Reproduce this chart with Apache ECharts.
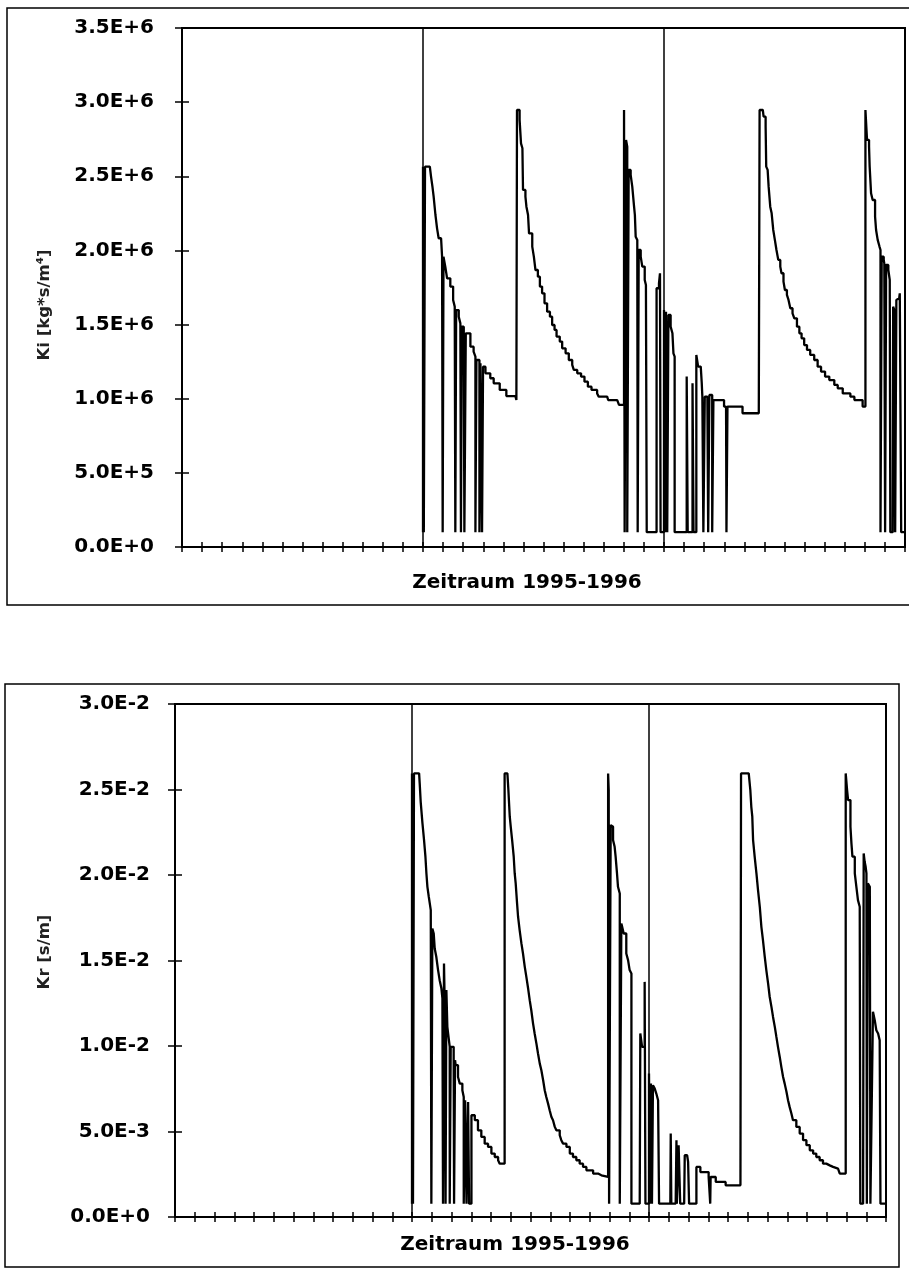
<!DOCTYPE html>
<html>
<head>
<meta charset="utf-8">
<script src="https://cdn.jsdelivr.net/npm/echarts@6/dist/echarts.min.js"></script>
<style>
html,body{margin:0;padding:0;background:#fff;}
#chart{width:909px;height:1268px;}
</style>
</head>
<body>
<div id="chart"></div>
<script>
// x: month index over the period (0..36), year marks at 12 and 24
const yearLines = [12, 24];
const kiTickLabels = ['0.0E+0','5.0E+5','1.0E+6','1.5E+6','2.0E+6','2.5E+6','3.0E+6','3.5E+6'];
const krTickLabels = ['0.0E+0','5.0E-3','1.0E-2','1.5E-2','2.0E-2','2.5E-2','3.0E-2'];
const kiTitle = 'Ki [kg*s/m\u2074]';
const krTitle = 'Kr [s/m]';
const xTitle = 'Zeitraum 1995-1996';

const kiSeries = [
[12.00,0.1e6],[12.00,2.565e6],[12.04,2.565e6],[12.04,0.1e6],[12.10,0.1e6],[12.10,2.565e6],[12.34,2.565e6],
[12.40,2.498e6],[12.47,2.430e6],[12.53,2.363e6],[12.62,2.239e6],[12.70,2.149e6],[12.78,2.082e6],[12.90,2.082e6],[12.95,1.958e6],
[12.98,1.958e6],[12.98,0.1e6],[13.02,0.1e6],[13.02,1.958e6],[13.11,1.891e6],[13.20,1.812e6],[13.36,1.756e6],[13.50,1.666e6],[13.58,1.621e6],
[13.61,1.621e6],[13.61,0.1e6],[13.65,0.1e6],[13.65,1.598e6],[13.78,1.553e6],[13.86,1.508e6],[13.89,1.508e6],[13.89,0.1e6],[13.93,0.1e6],[13.93,1.486e6],
[14.03,1.452e6],[14.06,1.452e6],[14.06,0.1e6],[14.13,0.1e6],[14.13,1.441e6],[14.19,1.441e6],[14.36,1.351e6],[14.52,1.317e6],[14.61,1.284e6],
[14.61,0.1e6],[14.66,0.1e6],[14.66,1.261e6],[14.81,1.261e6],[14.81,0.1e6],[14.86,0.1e6],[14.86,1.239e6],[14.94,1.239e6],[14.94,0.1e6],[14.99,0.1e6],[14.99,1.216e6],
[15.11,1.171e6],[15.35,1.171e6],[15.35,1.138e6],[15.52,1.138e6],[15.52,1.104e6],[15.82,1.104e6],[15.82,1.059e6],[16.15,1.059e6],[16.15,1.018e6],[16.60,1.018e6],[16.65,0.991e6],[16.68,0.991e6],
[16.68,2.947e6],[16.76,2.947e6],[16.81,2.880e6],[16.88,2.722e6],[16.95,2.689e6],[16.98,2.408e6],[17.10,2.363e6],[17.15,2.295e6],[17.23,2.239e6],[17.28,2.115e6],[17.44,2.026e6],[17.52,1.958e6],[17.60,1.868e6],[17.72,1.823e6],[17.82,1.756e6],[17.93,1.711e6],[18.05,1.643e6],[18.18,1.587e6],[18.32,1.553e6],[18.43,1.497e6],[18.55,1.464e6],[18.65,1.419e6],[18.81,1.385e6],[18.93,1.340e6],[19.10,1.306e6],[19.26,1.261e6],[19.43,1.228e6],[19.51,1.194e6],[19.68,1.171e6],[19.87,1.149e6],[20.04,1.115e6],[20.21,1.081e6],[20.39,1.059e6],[20.67,1.036e6],[20.75,1.014e6],[21.17,1.003e6],[21.22,0.991e6],[21.67,0.991e6],[21.76,0.958e6],[22.01,0.947e6],
[22.01,2.947e6],[22.04,2.947e6],[22.04,0.1e6],[22.11,0.1e6],[22.11,2.745e6],[22.17,2.700e6],[22.17,0.1e6],[22.24,0.1e6],[22.24,2.543e6],[22.34,2.509e6],[22.42,2.430e6],[22.51,2.295e6],[22.55,2.239e6],[22.59,2.093e6],[22.67,2.071e6],[22.69,2.071e6],[22.69,0.1e6],[22.74,0.1e6],[22.74,2.003e6],[22.84,1.958e6],[22.92,1.891e6],[23.04,1.801e6],[23.10,1.767e6],[23.14,1.767e6],[23.14,0.1e6],[23.63,0.1e6],[23.63,1.745e6],[23.75,1.778e6],[23.80,1.846e6],[23.83,1.846e6],[23.83,0.1e6],[24.00,0.1e6],
[24.00,1.598e6],[24.05,1.598e6],[24.05,0.1e6],[24.10,0.1e6],[24.10,1.587e6],[24.16,1.576e6],[24.16,0.1e6],[24.22,0.1e6],[24.22,1.565e6],[24.33,1.486e6],[24.42,1.441e6],[24.47,1.306e6],[24.53,1.284e6],[24.53,0.1e6],
[25.13,0.1e6],[25.13,1.149e6],[25.18,1.149e6],[25.18,0.1e6],[25.42,0.1e6],[25.42,1.104e6],[25.47,1.104e6],[25.47,0.1e6],[25.61,0.1e6],[25.61,1.295e6],[25.70,1.216e6],[25.83,1.216e6],[25.88,1.104e6],[25.91,1.014e6],[25.96,1.014e6],[25.96,0.1e6],[26.03,0.1e6],[26.03,1.014e6],[26.16,1.014e6],[26.20,0.1e6],[26.26,0.1e6],[26.26,1.025e6],[26.33,1.025e6],[26.40,0.1e6],[26.46,0.1e6],[26.46,0.991e6],[26.99,0.991e6],[26.99,0.947e6],[27.09,0.947e6],[27.11,0.1e6],[27.16,0.1e6],[27.16,0.947e6],[27.91,0.947e6],[27.91,0.902e6],[28.72,0.902e6],
[28.76,2.947e6],[28.92,2.947e6],[28.96,2.902e6],[29.06,2.835e6],[29.09,2.565e6],[29.16,2.543e6],[29.21,2.430e6],[29.29,2.295e6],[29.36,2.250e6],[29.44,2.138e6],[29.52,2.071e6],[29.60,2.003e6],[29.69,1.936e6],[29.79,1.891e6],[29.85,1.846e6],[29.95,1.790e6],[30.02,1.733e6],[30.12,1.700e6],[30.20,1.666e6],[30.29,1.610e6],[30.40,1.576e6],[30.49,1.542e6],[30.62,1.486e6],[30.74,1.441e6],[30.85,1.407e6],[30.98,1.362e6],[31.12,1.329e6],[31.28,1.295e6],[31.48,1.261e6],[31.65,1.216e6],[31.82,1.183e6],[32.02,1.149e6],[32.23,1.126e6],[32.48,1.093e6],[32.65,1.070e6],[32.90,1.036e6],[33.28,1.014e6],[33.48,0.991e6],[33.89,0.991e6],[33.89,0.947e6],[34.03,0.947e6],
[34.03,2.947e6],[34.09,2.947e6],[34.11,2.745e6],[34.21,2.700e6],[34.24,2.565e6],[34.31,2.385e6],[34.39,2.340e6],[34.51,2.228e6],[34.56,2.138e6],[34.64,2.071e6],[34.73,2.026e6],[34.78,2.003e6],[34.78,0.1e6],[34.84,0.1e6],[34.84,1.958e6],[34.94,1.936e6],[34.97,1.913e6],[35.01,0.1e6],[35.06,0.1e6],[35.06,1.902e6],[35.17,1.868e6],[35.24,1.801e6],[35.27,0.1e6],[35.39,0.1e6],[35.41,1.621e6],[35.47,1.598e6],[35.51,0.1e6],[35.54,0.1e6],[35.57,1.666e6],[35.64,1.677e6],[35.71,1.688e6],[35.74,1.711e6],[35.77,1.700e6],[35.81,0.1e6],[36.00,0.1e6]
];

const krSeries = [
[12.00,0.078e-2],[12.00,2.594e-2],[12.05,2.594e-2],[12.05,0.078e-2],[12.10,0.078e-2],[12.10,2.594e-2],[12.36,2.594e-2],
[12.39,2.536e-2],[12.44,2.428e-2],[12.53,2.302e-2],[12.61,2.204e-2],[12.68,2.107e-2],[12.73,2.009e-2],[12.78,1.931e-2],[12.85,1.873e-2],[12.90,1.834e-2],[12.95,1.795e-2],
[12.98,1.795e-2],[12.98,0.078e-2],[13.03,0.078e-2],[13.03,1.687e-2],[13.10,1.658e-2],[13.15,1.570e-2],[13.23,1.522e-2],[13.32,1.444e-2],[13.40,1.385e-2],[13.49,1.336e-2],[13.54,1.278e-2],
[13.57,1.278e-2],[13.57,0.078e-2],[13.62,0.078e-2],[13.62,1.482e-2],[13.67,1.151e-2],[13.70,0.078e-2],[13.74,0.078e-2],[13.74,1.327e-2],[13.79,1.112e-2],[13.83,1.073e-2],[13.91,0.995e-2],[13.91,0.078e-2],[13.96,0.078e-2],[13.96,0.995e-2],[14.11,0.927e-2],[14.13,0.927e-2],[14.13,0.078e-2],[14.18,0.078e-2],[14.18,0.917e-2],[14.21,0.888e-2],[14.33,0.819e-2],[14.42,0.780e-2],[14.55,0.741e-2],[14.62,0.702e-2],
[14.62,0.078e-2],[14.69,0.078e-2],[14.69,0.683e-2],[14.76,0.673e-2],[14.76,0.078e-2],[14.84,0.078e-2],[14.84,0.673e-2],[14.89,0.673e-2],[14.89,0.078e-2],[14.96,0.078e-2],[15.01,0.595e-2],[15.18,0.566e-2],[15.34,0.507e-2],[15.51,0.468e-2],[15.68,0.429e-2],[15.85,0.410e-2],[16.02,0.371e-2],[16.19,0.351e-2],[16.36,0.332e-2],[16.44,0.312e-2],[16.69,0.312e-2],
[16.69,2.594e-2],[16.83,2.594e-2],[16.88,2.497e-2],[16.95,2.341e-2],[17.00,2.282e-2],[17.07,2.204e-2],[17.15,2.107e-2],[17.20,2.009e-2],[17.25,1.951e-2],[17.32,1.834e-2],[17.37,1.756e-2],[17.45,1.678e-2],[17.54,1.600e-2],[17.62,1.541e-2],[17.71,1.463e-2],[17.79,1.404e-2],[17.88,1.336e-2],[17.96,1.268e-2],[18.04,1.209e-2],[18.13,1.131e-2],[18.21,1.073e-2],[18.30,1.014e-2],[18.38,0.956e-2],[18.47,0.897e-2],[18.55,0.858e-2],[18.64,0.800e-2],[18.72,0.741e-2],[18.80,0.702e-2],[18.89,0.663e-2],[18.97,0.624e-2],[19.06,0.585e-2],[19.14,0.566e-2],[19.23,0.527e-2],[19.31,0.507e-2],[19.48,0.478e-2],[19.56,0.449e-2],[19.65,0.429e-2],[19.82,0.410e-2],[19.99,0.371e-2],[20.15,0.351e-2],[20.32,0.332e-2],[20.49,0.312e-2],[20.66,0.293e-2],[20.83,0.273e-2],[21.00,0.273e-2],[21.17,0.254e-2],[21.42,0.244e-2],[21.59,0.234e-2],[21.93,0.234e-2],
[21.93,2.594e-2],[21.96,2.497e-2],[21.98,0.078e-2],[22.06,0.078e-2],[22.06,2.292e-2],[22.11,2.282e-2],[22.18,2.204e-2],[22.26,2.165e-2],[22.31,2.107e-2],[22.38,2.009e-2],[22.43,1.931e-2],[22.52,1.892e-2],[22.52,0.078e-2],[22.60,0.078e-2],[22.60,1.717e-2],[22.64,1.697e-2],[22.72,1.658e-2],[22.85,1.541e-2],[22.94,1.502e-2],[23.02,1.444e-2],[23.11,1.424e-2],[23.11,0.078e-2],[23.53,0.078e-2],[23.56,1.073e-2],[23.65,0.995e-2],[23.78,1.375e-2],[23.82,0.078e-2],[24.00,0.078e-2],
[24.00,0.839e-2],[24.05,0.839e-2],[24.05,0.078e-2],[24.10,0.078e-2],[24.10,0.780e-2],[24.15,0.771e-2],[24.15,0.078e-2],[24.20,0.078e-2],[24.20,0.771e-2],[24.29,0.751e-2],[24.37,0.722e-2],[24.46,0.683e-2],[24.51,0.673e-2],[24.51,0.078e-2],
[25.08,0.078e-2],[25.10,0.488e-2],[25.13,0.078e-2],[25.35,0.078e-2],[25.39,0.449e-2],[25.41,0.078e-2],[25.47,0.078e-2],[25.50,0.420e-2],[25.55,0.420e-2],[25.58,0.078e-2],[25.78,0.078e-2],[25.81,0.361e-2],[25.93,0.351e-2],[25.98,0.322e-2],[26.03,0.322e-2],[26.03,0.078e-2],[26.40,0.078e-2],[26.40,0.293e-2],[26.60,0.293e-2],[26.60,0.263e-2],[27.02,0.263e-2],[27.02,0.234e-2],[27.07,0.234e-2],[27.10,0.078e-2],[27.12,0.234e-2],[27.38,0.234e-2],[27.38,0.205e-2],[27.88,0.205e-2],[27.88,0.185e-2],[28.63,0.185e-2],
[28.66,2.594e-2],[29.05,2.594e-2],[29.13,2.497e-2],[29.18,2.399e-2],[29.23,2.341e-2],[29.27,2.204e-2],[29.35,2.107e-2],[29.44,2.009e-2],[29.52,1.912e-2],[29.61,1.814e-2],[29.69,1.697e-2],[29.77,1.619e-2],[29.86,1.522e-2],[29.94,1.444e-2],[30.03,1.366e-2],[30.11,1.288e-2],[30.20,1.229e-2],[30.28,1.170e-2],[30.37,1.112e-2],[30.45,1.053e-2],[30.53,0.995e-2],[30.62,0.936e-2],[30.70,0.878e-2],[30.79,0.819e-2],[30.87,0.780e-2],[30.96,0.732e-2],[31.04,0.683e-2],[31.12,0.644e-2],[31.21,0.605e-2],[31.29,0.566e-2],[31.46,0.527e-2],[31.63,0.488e-2],[31.80,0.449e-2],[31.97,0.420e-2],[32.14,0.390e-2],[32.31,0.371e-2],[32.47,0.351e-2],[32.64,0.332e-2],[32.81,0.312e-2],[32.98,0.302e-2],[33.15,0.293e-2],[33.32,0.283e-2],[33.57,0.273e-2],[33.66,0.254e-2],[33.96,0.254e-2],
[33.96,2.594e-2],[34.03,2.497e-2],[34.08,2.438e-2],[34.20,2.282e-2],[34.25,2.185e-2],[34.30,2.107e-2],[34.42,2.009e-2],[34.50,1.931e-2],[34.58,1.853e-2],[34.67,1.814e-2],[34.70,1.814e-2],[34.70,0.078e-2],[34.84,0.078e-2],[34.87,2.126e-2],[34.92,2.077e-2],[34.97,2.048e-2],[35.01,2.009e-2],[35.03,0.078e-2],[35.06,0.078e-2],[35.08,1.951e-2],[35.18,1.931e-2],[35.21,0.078e-2],[35.31,0.078e-2],[35.34,1.200e-2],[35.43,1.151e-2],[35.51,1.092e-2],[35.60,1.073e-2],[35.68,1.034e-2],[35.72,0.078e-2],[36.00,0.078e-2]
];

const FONT = '"DejaVu Sans", "Liberation Sans", Arial, sans-serif';
const chart = echarts.init(document.getElementById('chart'), null, {renderer: 'canvas', width: 909, height: 1268});

function xAxes(gi) {
  const base = {gridIndex: gi, type: 'value', min: 0, max: 36, interval: 1, position: 'bottom',
    axisLabel: {show: false}, splitLine: {show: false}};
  return [
    Object.assign({}, base, {axisLine: {show: true, onZero: false, lineStyle: {color: '#000', width: 2}},
      axisTick: {show: true, length: 5, lineStyle: {color: '#000', width: 1.5}}}),
    Object.assign({}, base, {axisLine: {show: false, onZero: false},
      axisTick: {show: true, inside: true, length: 5, lineStyle: {color: '#000', width: 1.5}}})
  ];
}
function yAxes(gi, max, interval, labels, margin) {
  const base = {gridIndex: gi, type: 'value', min: 0, max: max, interval: interval, position: 'left', splitLine: {show: false}};
  return [
    Object.assign({}, base, {axisLine: {show: true, onZero: false, lineStyle: {color: '#000', width: 2}},
      axisTick: {show: true, length: 7, lineStyle: {color: '#000', width: 1.5}},
      axisLabel: {show: true, margin: margin, color: '#000', fontFamily: FONT, fontWeight: 'bold', fontSize: 20,
        formatter: function (v) { return labels[Math.round(v / interval)]; }}}),
    Object.assign({}, base, {axisLine: {show: false, onZero: false},
      axisTick: {show: true, inside: true, length: 7, lineStyle: {color: '#000', width: 1.5}},
      axisLabel: {show: false}})
  ];
}

function lineSeries(data, xi, yi) {
  return {
    type: 'line', xAxisIndex: xi, yAxisIndex: yi, data: data, step: 'end',
    showSymbol: false, symbol: 'none', animation: false, silent: true,
    lineStyle: {color: '#000', width: 2.3, join: 'bevel'},
    markLine: {silent: true, symbol: ['none', 'none'], label: {show: false}, animation: false,
      lineStyle: {color: '#000', width: 1.5, type: 'solid'},
      data: yearLines.map(function (m) { return {xAxis: m}; })}
  };
}

const option = {
  backgroundColor: '#fff',
  animation: false,
  grid: [
    {left: 182, top: 28, width: 723, height: 519, show: true, borderColor: '#000', borderWidth: 2, backgroundColor: 'transparent', containLabel: false},
    {left: 175, top: 704, width: 711, height: 513, show: true, borderColor: '#000', borderWidth: 2, backgroundColor: 'transparent', containLabel: false}
  ],
  xAxis: xAxes(0).concat(xAxes(1)),
  yAxis: yAxes(0, 3.5e6, 5e5, kiTickLabels, 28).concat(yAxes(1, 0.03, 0.005, krTickLabels, 25)),
  series: [
    lineSeries(kiSeries, 0, 0),
    lineSeries(krSeries, 2, 2)
  ],
  graphic: [
    {type: 'rect', silent: true, shape: {x: 7, y: 8, width: 930, height: 597}, style: {fill: 'none', stroke: '#000', lineWidth: 1.5}},
    {type: 'rect', silent: true, shape: {x: 5, y: 684, width: 894, height: 583}, style: {fill: 'none', stroke: '#000', lineWidth: 1.5}},
    {type: 'text', silent: true, x: 45, y: 305, rotation: Math.PI / 2,
      style: {text: kiTitle, align: 'center', verticalAlign: 'middle', fill: '#222', font: 'bold 16.5px ' + FONT}},
    {type: 'text', silent: true, x: 527, y: 583,
      style: {text: xTitle, align: 'center', verticalAlign: 'middle', fill: '#000', font: 'bold 20px ' + FONT}},
    {type: 'text', silent: true, x: 45, y: 952, rotation: Math.PI / 2,
      style: {text: krTitle, align: 'center', verticalAlign: 'middle', fill: '#222', font: 'bold 16.5px ' + FONT}},
    {type: 'text', silent: true, x: 515, y: 1245,
      style: {text: xTitle, align: 'center', verticalAlign: 'middle', fill: '#000', font: 'bold 20px ' + FONT}}
  ]
};
chart.setOption(option);
</script>
</body>
</html>
